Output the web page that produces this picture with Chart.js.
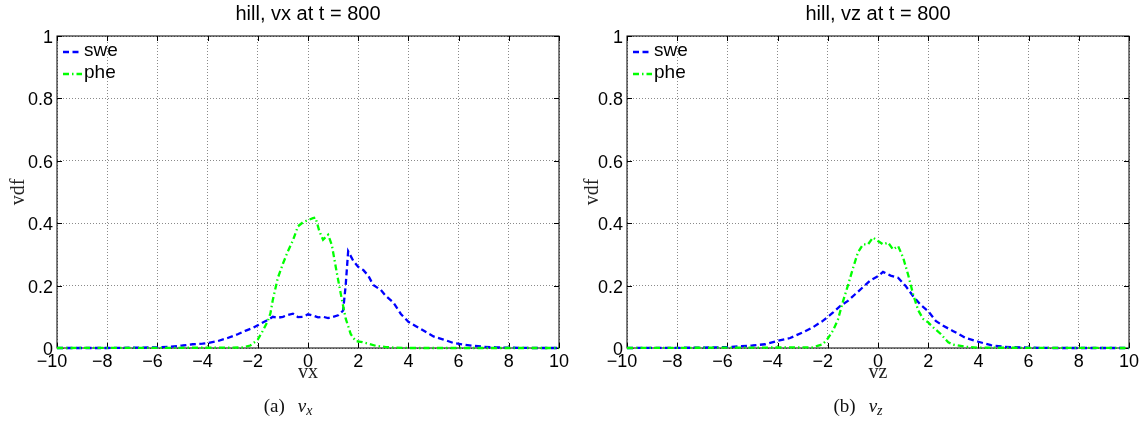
<!DOCTYPE html>
<html>
<head>
<meta charset="utf-8">
<script src="https://cdn.jsdelivr.net/npm/chart.js@4.4.1/dist/chart.umd.min.js"></script>
<style>
  body { margin: 0; background: #fff; }
  #wrap { position: relative; width: 1146px; height: 423px; overflow: hidden; }
  .pane { position: absolute; top: 0; }
  .cap { position: absolute; top: 396px; width: 200px; text-align: center;
         font: 19px "Liberation Serif", "DejaVu Serif", serif; line-height: 19px; color: #111; }
  .cap i { font-style: italic; margin-left: 13px; }
  .cap .sub { font-style: italic; font-size: 14px; position: relative; top: 3px; }
</style>
</head>
<body>
<div id="wrap">
  <div class="pane" style="left:0"><canvas id="c1" width="573" height="423"></canvas></div>
  <div class="pane" style="left:570px"><canvas id="c2" width="576" height="423"></canvas></div>
  <div class="cap" style="left:188px">(a)<i>v</i><span class="sub">x</span></div>
  <div class="cap" style="left:758px">(b)<i>v</i><span class="sub">z</span></div>
</div>
<script>
// tick values
const xTicks = [-10, -8, -6, -4, -2, 0, 2, 4, 6, 8, 10];
const yTicks = [0, 0.2, 0.4, 0.6, 0.8, 1];

// (a) vx
const vxSweX = [-10, -8, -7, -6, -5.5, -5, -4.6, -4.2, -4, -3.6, -3.2, -2.8, -2.5, -2.2, -2, -1.8, -1.6, -1.4, -1.2, -1,
  -0.8, -0.6, -0.4, -0.2, 0, 0.2, 0.4, 0.6, 0.8, 1, 1.2, 1.4, 1.5, 1.6, 1.8, 2, 2.2, 2.4, 2.6, 2.9, 3.1, 3.4, 3.7, 4,
  4.3, 4.6, 5, 5.4, 5.8, 6.2, 6.6, 7, 7.5, 8, 9, 10];
const vxSweY = [0, 0, 0.001, 0.002, 0.004, 0.008, 0.012, 0.014, 0.016, 0.022, 0.032, 0.044, 0.055, 0.064, 0.073, 0.082, 0.09, 0.1, 0.097, 0.1,
  0.106, 0.11, 0.099, 0.1, 0.108, 0.104, 0.098, 0.1, 0.096, 0.1, 0.105, 0.12, 0.2, 0.31, 0.28, 0.26, 0.25, 0.232, 0.202, 0.186, 0.167, 0.146, 0.109, 0.084,
  0.07, 0.056, 0.037, 0.027, 0.016, 0.011, 0.007, 0.004, 0.002, 0.001, 0, 0];
const vxPheX = [-10, -3, -2.6, -2.3, -2, -1.8, -1.6, -1.5, -1.4, -1.2, -1, -0.8, -0.6, -0.4, -0.2, 0, 0.2, 0.3, 0.45, 0.6,
  0.8, 0.95, 1.15, 1.35, 1.5, 1.7, 1.9, 2.1, 2.4, 2.7, 3.1, 3.5, 4, 10];
const vxPheY = [0, 0.001, 0.002, 0.008, 0.027, 0.055, 0.087, 0.11, 0.155, 0.225, 0.27, 0.31, 0.345, 0.39, 0.403, 0.41, 0.416, 0.418, 0.375, 0.347,
  0.363, 0.33, 0.24, 0.155, 0.095, 0.045, 0.022, 0.02, 0.014, 0.007, 0.003, 0.001, 0, 0];

// (b) vz
const vzSweX = [-10, -7, -6, -5, -4.5, -4, -3.5, -3, -2.6, -2.2, -1.8, -1.5, -1.2, -0.9, -0.6, -0.3, 0, 0.2, 0.5, 0.8,
  1.1, 1.4, 1.7, 2, 2.3, 2.6, 3, 3.5, 4, 4.5, 5, 6, 7, 10];
const vzSweY = [0, 0.001, 0.003, 0.008, 0.012, 0.023, 0.032, 0.05, 0.066, 0.087, 0.113, 0.135, 0.151, 0.173, 0.195, 0.217, 0.23, 0.244, 0.232, 0.225,
  0.199, 0.166, 0.138, 0.118, 0.087, 0.071, 0.054, 0.032, 0.02, 0.009, 0.004, 0.001, 0, 0];
const vzPheX = [-10, -2.6, -2.2, -2, -1.8, -1.6, -1.4, -1.2, -1, -0.8, -0.6, -0.4, -0.2, 0, 0.2, 0.4, 0.6, 0.8, 1, 1.2,
  1.4, 1.6, 1.8, 2, 2.2, 2.5, 2.8, 3, 3.5, 4, 10];
const vzPheY = [0, 0.002, 0.012, 0.03, 0.055, 0.09, 0.148, 0.2, 0.255, 0.306, 0.332, 0.332, 0.354, 0.343, 0.332, 0.338, 0.316, 0.327, 0.29, 0.235,
  0.172, 0.121, 0.093, 0.082, 0.066, 0.045, 0.018, 0.011, 0.004, 0.001, 0];

const SANS = '"Liberation Sans", Arial, Helvetica, sans-serif';
const SERIF = '"Liberation Serif", "DejaVu Serif", serif';
const BLUE = '#0000ff', GREEN = '#00ff00';
const sweDash = [6, 3.5], pheDash = [6, 3, 1.5, 3];

function pts(xs, ys) {
  return xs.map((x, i) => ({ x: x, y: ys[i] }));
}

// matlab style box, inward ticks and legend
const framePlugin = {
  id: 'frame',
  beforeDatasetsDraw(chart) {
    const { ctx, chartArea: a, scales: { x, y } } = chart;
    ctx.save();
    ctx.strokeStyle = '#000';
    ctx.lineWidth = 1;
    ctx.setLineDash([]);
    ctx.strokeRect(a.left, a.top, a.width, a.height);
    ctx.beginPath();
    xTicks.forEach(v => {
      const px = Math.round(x.getPixelForValue(v)) + 0.5;
      ctx.moveTo(px, a.bottom); ctx.lineTo(px, a.bottom - 5);
      ctx.moveTo(px, a.top); ctx.lineTo(px, a.top + 5);
    });
    yTicks.forEach(v => {
      const py = Math.round(y.getPixelForValue(v)) + 0.5;
      ctx.moveTo(a.left, py); ctx.lineTo(a.left + 5, py);
      ctx.moveTo(a.right, py); ctx.lineTo(a.right - 5, py);
    });
    ctx.stroke();
    ctx.restore();
  },
  afterDatasetsDraw(chart) {
    const { ctx, chartArea: a } = chart;
    const rows = [['swe', BLUE, sweDash, 16], ['phe', GREEN, pheDash, 38]];
    ctx.save();
    rows.forEach(r => {
      ctx.strokeStyle = r[1];
      ctx.lineWidth = 2.3;
      ctx.setLineDash(r[2]);
      ctx.beginPath();
      ctx.moveTo(a.left + 6, a.top + r[3]);
      ctx.lineTo(a.left + 25, a.top + r[3]);
      ctx.stroke();
      ctx.setLineDash([]);
      ctx.fillStyle = '#000';
      ctx.font = '19px ' + SANS;
      ctx.textBaseline = 'middle';
      ctx.textAlign = 'left';
      ctx.fillText(r[0], a.left + 27, a.top + r[3] - 1);
    });
    ctx.restore();
  }
};

function makeChart(id, title, xTitle, swe, phe, padRight, yTitlePad) {
  const ctx = document.getElementById(id).getContext('2d');
  return new Chart(ctx, {
    type: 'line',
    data: {
      datasets: [
        { label: 'swe', data: swe, borderColor: BLUE, borderWidth: 2.3, borderDash: sweDash,
          pointRadius: 0, tension: 0, fill: false, clip: false, order: 2 },
        { label: 'phe', data: phe, borderColor: GREEN, borderWidth: 2.3, borderDash: pheDash,
          pointRadius: 0, tension: 0, fill: false, clip: false, order: 1 }
      ]
    },
    options: {
      responsive: false,
      animation: false,
      layout: { padding: { left: 0, right: padRight, top: 0, bottom: 35 } },
      plugins: {
        legend: { display: false },
        tooltip: { enabled: false },
        title: {
          display: true, text: title, color: '#000', fullSize: false,
          font: { family: SANS, size: 20, weight: 'normal', lineHeight: 1.2 },
          padding: { top: 2, bottom: 10 }
        }
      },
      scales: {
        x: {
          type: 'linear', min: -10, max: 10,
          afterBuildTicks: s => { s.ticks = xTicks.map(v => ({ value: v })); },
          afterFit: s => { s.height = 40; s.paddingLeft = 0; s.paddingRight = 0; },
          grid: { color: '#8a8a8a', lineWidth: 1, drawTicks: false },
          border: { display: false, dash: [1, 2] },
          ticks: {
            color: '#000', padding: 3, autoSkip: false, maxRotation: 0,
            font: { family: SANS, size: 18 },
            callback: v => v < 0 ? '\u2212' + (-v) + '  ' : String(v)
          },
          title: {
            display: true, text: xTitle, color: '#222',
            font: { family: SERIF, size: 20, lineHeight: 1 },
            padding: { top: 0, bottom: 5 }
          }
        },
        y: {
          type: 'linear', min: 0, max: 1,
          afterBuildTicks: s => { s.ticks = yTicks.map(v => ({ value: v })); },
          afterFit: s => { s.width = 57; s.paddingTop = 0; s.paddingBottom = 0; },
          grid: { color: '#8a8a8a', lineWidth: 1, drawTicks: false },
          border: { display: false, dash: [1, 2] },
          ticks: {
            color: '#000', padding: 4, labelOffset: 2,
            font: { family: SANS, size: 18 },
            callback: v => String(Math.round(v * 10) / 10)
          },
          title: {
            display: true, text: 'vdf', color: '#222',
            font: { family: SERIF, size: 20, lineHeight: 1.2 },
            padding: { top: yTitlePad, bottom: 0 }
          }
        }
      }
    },
    plugins: [framePlugin]
  });
}

makeChart('c1', 'hill, vx at t = 800', 'vx', pts(vxSweX, vxSweY), pts(vxPheX, vxPheY), 14, 7);
makeChart('c2', 'hill, vz at t = 800', 'vz', pts(vzSweX, vzSweY), pts(vzPheX, vzPheY), 17, 11);
</script>
</body>
</html>
